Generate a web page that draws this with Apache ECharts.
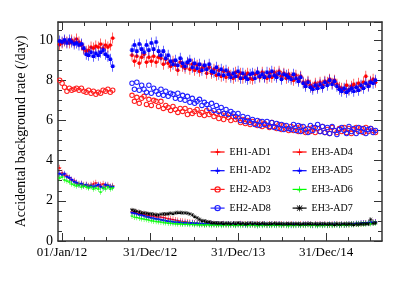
<!DOCTYPE html>
<html><head><meta charset="utf-8">
<script src="https://cdn.jsdelivr.net/npm/echarts@6/dist/echarts.min.js"></script>
<style>html,body{margin:0;padding:0;background:#fff}#c{width:415px;height:281px}</style>
</head><body><div id="c"></div>
<script>
// ---- data ----
const tickDays = [0, 365, 730, 1095];
const tickLabels = ['01/Jan/12', '31/Dec/12', '31/Dec/13', '31/Dec/14'];
const minorTickDays = [91, 182, 274, 456, 547, 639, 821, 912, 1004, 1186, 1277];

const p1Days = [-10,0,10,20,30,40,50,60,70,80,90,100,110,120,130,140,150,160,170,180,190,200,210];
const p2Days = [290,300,310,320,330,340,350,360,370,380,390,400,410,420,430,440,450,460,470,480,
  490,500,510,520,530,540,550,560,570,580,590,600,610,620,630,640,650,660,670,680,
  690,700,710,720,730,740,750,760,770,780,790,800,810,820,830,840,850,860,870,880,
  890,900,910,920,930,940,950,960,970,980,990,1000,1010,1020,1030,1040,1050,1060,1070,1080,
  1090,1100,1110,1120,1130,1140,1150,1160,1170,1180,1190,1200,1210,1220,1230,1240,1250,1260,1270,1280,
  1290,1300];

const seriesNames = ['EH1-AD1','EH1-AD2','EH2-AD3','EH2-AD8','EH3-AD4','EH3-AD5','EH3-AD6','EH3-AD7'];

const ad1P1 = [9.78,9.85,9.95,9.9,9.85,10.0,9.9,10.05,9.9,9.75,9.55,9.45,9.5,9.65,9.6,9.7,9.65,9.8,9.6,9.75,9.65,9.75,10.1];
const ad1P2 = [9.25,8.95,9.2,8.85,9.15,9.3,8.9,9.15,8.95,9.2,8.9,9.15,
  9.1,8.8,9.05,8.85,8.7,8.95,8.75,8.5,8.9,8.7,
  8.6,8.85,8.55,8.8,8.5,8.75,8.45,8.6,8.7,8.35,8.65,
  8.35,8.55,8.25,8.5,8.2,8.45,8.15,8.4,8.25,8.1,8.4,
  8.2,8.35,8.1,8.25,8.35,8.1,8.05,8.3,8.35,8.15,8.4,
  8.2,8.1,8.35,8.15,8.4,8.25,8.45,8.2,8.35,8.1,8.3,
  8.15,8.0,8.25,8.05,8.2,7.9,7.8,7.95,7.75,7.65,7.85,
  7.7,7.9,7.75,7.95,7.9,8.05,7.85,8.0,7.8,7.65,7.6,
  7.55,7.75,7.55,7.7,7.8,7.65,7.85,7.7,7.9,8.2,7.75,7.95,8.05,7.9];

const ad2P1 = [9.95,9.9,10.0,9.85,10.0,9.9,9.8,9.85,9.75,9.8,9.6,9.3,9.25,9.4,9.2,9.35,9.25,9.4,9.5,9.3,9.2,9.05,8.7];
const ad2P2 = [9.5,9.75,9.45,9.8,9.55,9.4,9.75,9.5,9.85,9.55,9.9,9.45,
  9.25,9.45,9.1,9.25,8.95,8.8,9.0,8.75,9.1,8.85,
  8.7,8.9,9.0,8.65,8.85,8.6,8.8,8.5,8.75,8.55,8.8,
  8.45,8.4,8.65,8.3,8.55,8.25,8.5,8.3,8.15,8.35,8.2,
  8.45,8.1,8.35,8.15,8.05,8.3,8.35,8.1,8.4,8.2,8.3,
  8.15,8.4,8.2,8.45,8.25,8.15,8.35,8.05,8.3,8.25,8.15,
  8.05,8.3,8.1,7.95,8.15,7.85,7.7,7.9,7.65,7.55,7.75,
  7.6,7.8,7.65,7.9,7.75,8.0,7.8,7.95,7.7,7.55,7.45,
  7.6,7.4,7.5,7.6,7.45,7.65,7.5,7.75,7.6,7.85,7.7,7.9,7.85,8.0];

const ad3P1 = [8.0,7.85,7.65,7.45,7.6,7.5,7.55,7.6,7.5,7.6,7.45,7.4,7.5,7.35,7.45,7.3,7.4,7.35,7.5,7.45,7.55,7.4,7.5];
const ad3P2 = [7.25,6.95,7.15,6.85,7.1,7.2,6.8,7.05,6.75,7.0,6.95,6.7,
  6.95,6.6,6.75,6.65,6.5,6.7,6.55,6.4,6.6,6.45,
  6.6,6.3,6.5,6.35,6.45,6.55,6.3,6.4,6.25,6.5,6.3,
  6.4,6.2,6.35,6.1,6.3,6.05,6.25,6.15,6.0,6.2,6.05,
  6.1,5.9,6.05,5.85,6.0,5.8,5.95,5.85,5.75,5.95,5.7,
  5.85,5.75,5.65,5.9,5.7,5.6,5.8,5.55,5.75,5.6,5.5,
  5.7,5.5,5.65,5.45,5.7,5.5,5.4,5.6,5.45,5.65,5.4,
  5.6,5.45,5.7,5.4,5.55,5.35,5.65,5.5,5.4,5.6,5.45,
  5.65,5.4,5.6,5.35,5.55,5.65,5.45,5.6,5.4,5.65,5.45,5.6,5.5,5.4];

const ad8P2 = [7.85,7.55,7.9,7.5,7.75,7.55,7.4,7.75,7.35,7.6,7.45,7.3,
  7.55,7.25,7.45,7.2,7.35,7.3,7.1,7.35,7.05,7.25,
  7.0,7.2,6.9,7.1,6.85,6.95,7.05,6.75,6.9,6.8,6.6,
  6.85,6.5,6.75,6.45,6.65,6.35,6.55,6.3,6.45,6.35,6.2,
  6.35,6.0,6.2,5.95,6.15,5.9,6.05,5.8,6.0,5.75,5.95,
  5.8,5.95,5.7,5.9,5.65,5.85,5.6,5.8,5.55,5.75,5.6,
  5.55,5.8,5.5,5.75,5.45,5.7,5.55,5.4,5.75,5.5,5.65,
  5.8,5.45,5.7,5.4,5.65,5.35,5.7,5.5,5.3,5.55,5.65,
  5.5,5.35,5.7,5.45,5.6,5.35,5.65,5.45,5.6,5.35,5.55,5.6,5.4,5.5];

const ad4P1 = [3.65,3.4,3.3,3.25,3.15,3.05,3.0,2.9,2.85,2.85,2.8,2.8,2.75,2.8,2.85,2.9,2.75,2.8,2.85,2.75,2.8,2.7,2.75];
const ad4P2 = [1.45,1.42,1.4,1.38,1.35,1.32,1.3,1.28,1.25,1.25,
  1.22,1.2,1.2,1.18,1.15,1.12,1.1,1.08,1.05,1.02,
  1.0,0.98,0.97,0.95,0.93,0.92,0.9,0.9,0.88,0.87,
  0.86,0.85,0.87,0.84,0.86,0.83,0.85,0.84,0.86,0.82,
  0.84,0.83,0.85,0.82,0.84,0.86,0.83,0.85,0.82,0.84,
  0.83,0.81,0.84,0.82,0.85,0.83,0.81,0.84,0.82,0.83,
  0.85,0.82,0.84,0.81,0.83,0.82,0.84,0.80,0.83,0.82,
  0.84,0.81,0.83,0.85,0.82,0.80,0.83,0.82,0.84,0.81,
  0.83,0.82,0.80,0.83,0.81,0.84,0.82,0.83,0.81,0.83,
  0.82,0.84,0.83,0.85,0.84,0.86,0.88,0.90,0.91,0.93,
  0.92,0.95];

const ad5P1 = [3.35,3.3,3.35,3.2,3.15,3.05,2.95,2.9,2.8,2.85,2.75,2.8,2.7,2.75,2.7,2.75,2.8,2.7,2.65,2.8,2.75,2.7,2.7];
const ad5P2 = [1.4,1.38,1.35,1.3,1.28,1.25,1.2,1.18,1.15,1.12,
  1.1,1.08,1.05,1.03,1.0,0.98,0.97,0.95,0.94,0.93,
  0.92,0.90,0.91,0.89,0.88,0.90,0.87,0.88,0.86,0.87,
  0.85,0.86,0.84,0.86,0.83,0.85,0.84,0.82,0.85,0.83,
  0.84,0.82,0.85,0.81,0.83,0.84,0.82,0.80,0.83,0.81,
  0.84,0.82,0.79,0.83,0.81,0.84,0.82,0.80,0.83,0.81,
  0.82,0.84,0.80,0.83,0.81,0.82,0.79,0.83,0.81,0.82,
  0.80,0.83,0.82,0.84,0.81,0.79,0.82,0.80,0.83,0.81,
  0.82,0.80,0.83,0.81,0.84,0.82,0.80,0.83,0.81,0.82,
  0.84,0.83,0.85,0.87,0.86,0.89,0.90,0.88,0.91,0.93,
  0.92,0.94];

const ad6P1 = [3.15,3.2,3.05,3.0,2.95,2.85,2.8,2.75,2.8,2.7,2.75,2.7,2.65,2.7,2.6,2.65,2.6,2.45,2.65,2.6,2.7,2.6,2.65];
const ad6P2 = [1.25,1.2,1.18,1.15,1.12,1.1,1.08,1.05,1.02,1.0,
  0.98,0.97,0.95,0.93,0.92,0.9,0.9,0.88,0.87,0.86,
  0.86,0.85,0.84,0.85,0.83,0.84,0.82,0.83,0.81,0.82,
  0.80,0.82,0.81,0.79,0.82,0.80,0.81,0.78,0.80,0.82,
  0.79,0.81,0.80,0.78,0.81,0.79,0.80,0.82,0.78,0.80,
  0.81,0.79,0.77,0.80,0.78,0.81,0.79,0.80,0.78,0.81,
  0.79,0.80,0.78,0.81,0.79,0.77,0.80,0.78,0.79,0.81,
  0.78,0.80,0.79,0.81,0.78,0.80,0.79,0.77,0.80,0.78,
  0.80,0.79,0.81,0.78,0.80,0.82,0.79,0.81,0.80,0.82,
  0.81,0.83,0.82,0.84,0.83,0.85,0.84,0.86,0.88,0.87,
  0.89,0.90];

const ad7P2 = [1.55,1.52,1.48,1.45,1.42,1.4,1.38,1.36,1.35,1.33,
  1.32,1.3,1.33,1.35,1.34,1.36,1.38,1.37,1.4,1.42,
  1.42,1.4,1.4,1.38,1.35,1.3,1.22,1.15,1.08,1.02,
  1.0,0.97,0.95,0.92,0.9,0.9,0.88,0.9,0.87,0.88,
  0.88,0.86,0.89,0.87,0.90,0.86,0.88,0.85,0.87,0.89,
  0.86,0.88,0.87,0.85,0.88,0.86,0.84,0.87,0.86,0.88,
  0.85,0.87,0.86,0.84,0.86,0.85,0.87,0.84,0.86,0.85,
  0.83,0.86,0.84,0.85,0.87,0.84,0.86,0.83,0.85,0.84,
  0.86,0.83,0.85,0.84,0.82,0.85,0.83,0.84,0.86,0.83,
  0.85,0.84,0.82,0.84,0.83,0.85,0.84,0.86,0.85,1.08,
  0.88,0.90];

// ---- styling ----
const FONT = 'Liberation Serif';
const AX = '#333';
const BAR = 'M4.4,0H5.6V20H4.4Z M0,9.4H10V10.6H0Z ';
const SYM = {
  circleBar: 'path://' + BAR + 'M1.5,10 A3.5,3.5 0 1,1 8.5,10 A3.5,3.5 0 1,1 1.5,10Z',
  squareBar: 'path://' + BAR + 'M1.8,6.8H8.2V13.2H1.8Z',
  triBar: 'path://' + BAR + 'M5,6.2 L9,13.2 L1,13.2 Z',
  ring: 'path://M0,5 A5,5 0 1,1 10,5 A5,5 0 1,1 0,5Z M1.9,5 A3.1,3.1 0 1,0 8.1,5 A3.1,3.1 0 1,0 1.9,5Z',
  star: 'path://M4.4,0H5.6V10H4.4Z M0,4.4H10V5.6H0Z M1.2,0.4 L9.6,8.8 L8.8,9.6 L0.4,1.2 Z M8.8,0.4 L9.6,1.2 L1.2,9.6 L0.4,8.8 Z'
};

function pairs(days, vals) {
  const out = [];
  for (let i = 0; i < vals.length && i < days.length; i++) out.push([days[i], vals[i]]);
  return out;
}
function mk(name, color, symbol, size, p1, p2) {
  const data = (p1 ? pairs(p1Days, p1) : []).concat(pairs(p2Days, p2));
  return {
    name: name, type: 'line', data: data,
    symbol: symbol, symbolSize: size, symbolKeepAspect: false, showSymbol: true,
    lineStyle: { width: 0, opacity: 0, color: color },
    itemStyle: { color: color },
    emphasis: { disabled: true },
    xAxisIndex: 0, yAxisIndex: 0
  };
}

const series = [
  mk(seriesNames[0], '#ff0000', SYM.circleBar, [5, 11], ad1P1, ad1P2),
  mk(seriesNames[1], '#0000ff', SYM.squareBar, [5, 11], ad2P1, ad2P2),
  mk(seriesNames[2], '#ff2020', SYM.ring, 5.5, ad3P1, ad3P2),
  mk(seriesNames[3], '#2020ff', SYM.ring, 5.5, null, ad8P2),
  mk(seriesNames[4], '#ff0000', SYM.triBar, [4, 6], ad4P1, ad4P2),
  mk(seriesNames[5], '#0000ff', SYM.squareBar, [4, 6], ad5P1, ad5P2),
  mk(seriesNames[6], '#00ff00', SYM.triBar, [4, 6], ad6P1, ad6P2),
  mk(seriesNames[7], '#000000', SYM.star, 4, null, ad7P2)
];

const XMIN = -17, XMAX = 1327, YMIN = 0, YMAX = 10.9;
function xAx(pos, custom, len, labels, line) {
  return {
    type: 'value', position: pos, min: XMIN, max: XMAX,
    axisLine: { show: line, onZero: false, lineStyle: { color: AX, width: 1.5 } },
    axisTick: { show: true, inside: true, length: len, customValues: custom, lineStyle: { color: AX, width: 1 } },
    axisLabel: labels ? {
      show: true, customValues: tickDays, margin: 5,
      fontFamily: FONT, fontSize: 13, color: '#000',
      formatter: function (v) { const i = tickDays.indexOf(v); return i >= 0 ? tickLabels[i] : ''; }
    } : { show: false },
    splitLine: { show: false }
  };
}
function yAx(pos, interval, len, labels, line, name) {
  const o = {
    type: 'value', position: pos, min: YMIN, max: YMAX, interval: interval,
    axisLine: { show: line, onZero: false, lineStyle: { color: AX, width: 1.5 } },
    axisTick: { show: true, inside: true, length: len, lineStyle: { color: AX, width: 1 } },
    axisLabel: labels ? { show: true, showMaxLabel: false, margin: 5, fontFamily: FONT, fontSize: 14, color: '#000' } : { show: false },
    splitLine: { show: false }
  };
  if (name) {
    o.name = name; o.nameLocation = 'middle'; o.nameGap = 24;
    o.nameTextStyle = { fontFamily: FONT, fontSize: 14, color: '#000' };
  }
  return o;
}

const legendBase = {
  orient: 'vertical', itemWidth: 14, itemHeight: 8, itemGap: 6.7, padding: 0,
  textStyle: { fontFamily: FONT, fontSize: 10, color: '#000', lineHeight: 12 },
  lineStyle: { width: 1.2, opacity: 1 },
  selectedMode: false
};

const option = {
  animation: false,
  backgroundColor: '#fff',
  grid: { left: 58, right: 33, top: 22, bottom: 40 },
  legend: [
    Object.assign({}, legendBase, { left: 210, top: 146, data: seriesNames.slice(0, 4) }),
    Object.assign({}, legendBase, { left: 292, top: 146, data: seriesNames.slice(4, 8) })
  ],
  xAxis: [
    xAx('bottom', tickDays, 8, true, true),
    xAx('bottom', minorTickDays, 4, false, false),
    xAx('top', tickDays, 8, false, true),
    xAx('top', minorTickDays, 4, false, false)
  ],
  yAxis: [
    yAx('left', 2, 8, true, true, 'Accidental background rate (/day)'),
    yAx('left', 0.5, 4, false, false),
    yAx('right', 2, 8, false, true),
    yAx('right', 0.5, 4, false, false)
  ],
  series: series
};

const chart = echarts.init(document.getElementById('c'), null, { renderer: 'canvas' });
chart.setOption(option);
</script>
</body></html>
